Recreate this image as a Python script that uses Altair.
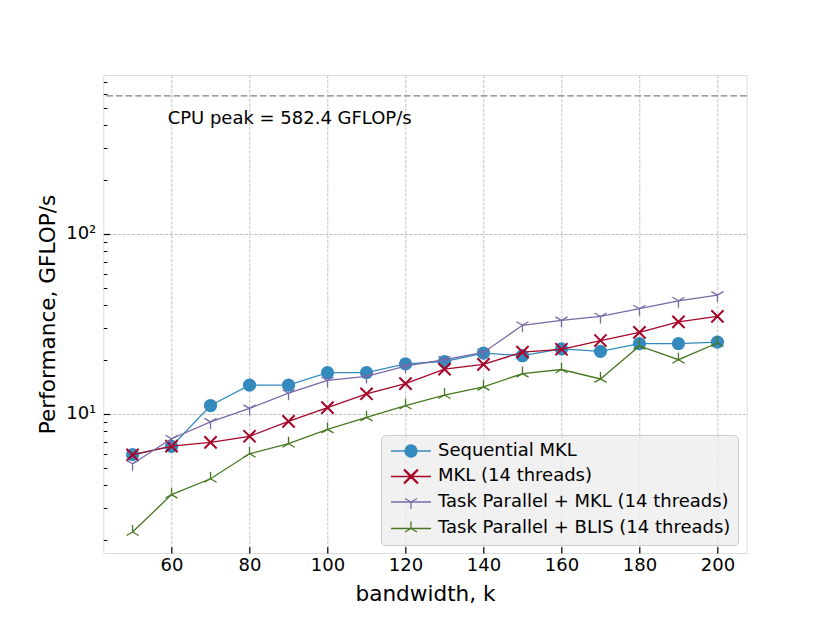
import altair as alt
import pandas as pd

# ---------------- data ----------------
K = [50, 60, 70, 80, 90, 100, 110, 120, 130, 140, 150, 160, 170, 180, 190, 200]
SEQ_MKL = [5.92, 6.58, 11.1, 14.4, 14.4, 16.9, 16.9, 18.9, 19.5, 21.7, 21.0, 22.9, 22.2, 24.5, 24.5, 25.0]
MKL_14 = [5.9, 6.6, 6.93, 7.49, 9.06, 10.8, 12.9, 14.7, 17.7, 18.8, 22.0, 22.8, 25.5, 28.3, 32.4, 34.7]
TP_MKL = [5.27, 7.26, 9.0, 10.7, 13.0, 15.3, 16.1, 18.4, 19.95, 21.9, 31.0, 33.0, 34.7, 38.3, 42.4, 45.6]
TP_BLIS = [2.20, 3.55, 4.35, 5.99, 6.81, 8.18, 9.54, 11.1, 12.7, 14.1, 16.7, 17.6, 15.6, 23.8, 19.95, 24.7]

NAMES = ["Sequential MKL", "MKL (14 threads)",
         "Task Parallel + MKL (14 threads)", "Task Parallel + BLIS (14 threads)"]
COLORS = ["#348ABD", "#A60628", "#7A68A6", "#467821"]

PEAK = 582.4
PEAK_LABEL = "CPU peak = 582.4 GFLOP/s"
PEAK_LABEL_X = 59
PEAK_LABEL_Y = PEAK * 0.7

X_TICKS = [60, 80, 100, 120, 140, 160, 180, 200]
Y_TICKS = [10, 100]
Y_TICK_LABELS = ["10¹", "10²"]
Y_MINOR = [2, 3, 4, 5, 6, 7, 8, 9, 20, 30, 40, 50, 60, 70, 80, 90,
           200, 300, 400, 500, 600, 700]

X_DOMAIN = [42.5, 207.5]
Y_DOMAIN = [1.683, 761.6]

# ---------------- styling ----------------
W, H = 643.4, 478
FONT = "DejaVu Sans"
GRID = dict(grid=True, gridColor="#b2b2b2", gridDash=[3.3, 1.4], gridWidth=0.8)

xscale = alt.Scale(domain=X_DOMAIN, nice=False, zero=False)
yscale = alt.Scale(type="log", domain=Y_DOMAIN, nice=False)


def x_polygon(r, h):
    u = h / 2 ** 0.5
    pts = [(0, -2 * u), (r - u, -r - u), (r + u, -r + u), (2 * u, 0),
           (r + u, r - u), (r - u, r + u), (0, 2 * u), (-r + u, r + u),
           (-r - u, r - u), (-2 * u, 0), (-r - u, -r + u), (-r + u, -r - u)]
    return "M" + "L".join(f"{a:.4f},{b:.4f}" for a, b in pts) + "Z"


def tri(r, down=True):
    s = 1 if down else -1
    c, d = 0.866 * r, 0.5 * r
    return (f"M0,0L0,{s * r:.4f}M0,0L{-c:.4f},{-s * d:.4f}"
            f"M0,0L{c:.4f},{-s * d:.4f}")


# markers for the plotted points (unit paths, scaled by sqrt(size)/2)
PT_X = "M-1,-1L1,1M-1,1L1,-1"
PT_TRI_DOWN = tri(1.0, True)
PT_TRI_UP = tri(1.0, False)

# legend handles: a line plus the marker (symbol size 144 -> 6 px per unit)
U = 6.0
HANDLE = f"M{-20 / U:.4f},0H{20 / U:.4f}"
LEG_SHAPES = [
    HANDLE + "M-1,0A1,1,0,1,1,1,0A1,1,0,1,1,-1,0Z",
    HANDLE + x_polygon(6.5 / U, 0.5 / U),
    HANDLE + tri(7 / U, True),
    HANDLE + tri(7 / U, False),
]

label_expr = " : ".join(
    f"datum.value == {v} ? '{t}'" for v, t in zip(Y_TICKS, Y_TICK_LABELS)
) + " : ''"

x_label_axis = alt.Axis(values=X_TICKS, orient="bottom", ticks=False, tickSize=0,
                        domain=False, labelFontSize=18, labelPadding=3.3,
                        labelColor="black", labelFont=FONT, labelFlush=False,
                        title="bandwidth, k", titleFontSize=21.6,
                        titleFontWeight="normal", titleColor="black",
                        titleFont=FONT, titleY=47.5, titleBaseline="alphabetic",
                        **GRID)
y_label_axis = alt.Axis(values=Y_TICKS, orient="left", ticks=False, tickSize=0,
                        domain=False, labelExpr=label_expr, labelFontSize=18,
                        labelPadding=7.5, labelColor="black", labelFont=FONT,
                        labelFlush=False,
                        title="Performance, GFLOP/s", titleFontSize=21.6,
                        titleFontWeight="normal", titleColor="black",
                        titleFont=FONT, titleX=-49, titleY=H / 2,
                        titleAngle=270, titleBaseline="alphabetic",
                        titleAlign="center", **GRID)
x_tick_axis = alt.Axis(values=X_TICKS, orient="bottom", offset=-6.3, tickSize=6.3,
                       labels=False, domain=False, grid=False, title=None,
                       tickColor="black", tickWidth=1.2)
y_tick_axis = alt.Axis(values=Y_TICKS, orient="left", offset=-6.3, tickSize=6.3,
                       labels=False, domain=False, grid=False, title=None,
                       tickColor="black", tickWidth=1.2)
y_minor_axis = alt.Axis(values=Y_MINOR, orient="left", offset=-3.6, tickSize=3.6,
                        labels=False, domain=False, grid=False, title=None,
                        tickColor="black", tickWidth=1.0)

series = [SEQ_MKL, MKL_14, TP_MKL, TP_BLIS]
layers = []

# peak line + annotation
peak_df = pd.DataFrame({"v": [PEAK]})
layers.append(alt.Chart(peak_df).mark_rule(color="#808080", strokeDash=[6.7, 2.9],
                                           strokeWidth=1.3)
              .encode(y=alt.Y("v:Q", scale=yscale, axis=None)))
ann_df = pd.DataFrame({"k": [PEAK_LABEL_X], "v": [PEAK_LABEL_Y], "t": [PEAK_LABEL]})
layers.append(alt.Chart(ann_df).mark_text(align="left", baseline="alphabetic",
                                          fontSize=18, font=FONT, color="black")
              .encode(x=alt.X("k:Q", scale=xscale, axis=None),
                      y=alt.Y("v:Q", scale=yscale, axis=None), text="t:N"))

axis_plan = {
    (0, "line"): (x_label_axis, y_label_axis),
    (0, "pt"): (x_tick_axis, y_tick_axis),
    (1, "line"): (None, y_minor_axis),
}

point_marks = [
    dict(shape="circle", size=175, filled=True, strokeWidth=0),
    dict(shape=PT_X, size=150, filled=False, strokeWidth=2),
    dict(shape=PT_TRI_DOWN, size=196, filled=False, strokeWidth=1.3),
    dict(shape=PT_TRI_UP, size=196, filled=False, strokeWidth=1.3),
]

for i, vals in enumerate(series):
    df = pd.DataFrame({"k": K, "v": vals})
    for kind in ("line", "pt"):
        xa, ya = axis_plan.get((i, kind), (None, None))
        enc = dict(x=alt.X("k:Q", scale=xscale, axis=xa),
                   y=alt.Y("v:Q", scale=yscale, axis=ya))
        if kind == "line":
            m = alt.Chart(df).mark_line(color=COLORS[i], strokeWidth=1.3)
        else:
            m = alt.Chart(df).mark_point(color=COLORS[i], opacity=1, **point_marks[i])
        layers.append(m.encode(**enc))

# legend carrier (no visible data)
leg = alt.Legend(orient="none", legendX=277.7, legendY=360, title=None, padding=7,
                 fillColor="rgba(238,238,238,0.8)", strokeColor="#cccccc",
                 cornerRadius=4, labelFont=FONT, labelFontSize=18,
                 labelColor="black", symbolSize=144, symbolStrokeWidth=1.3,
                 labelOffset=18, rowPadding=6.5, symbolOffset=14, labelLimit=500)
leg_df = pd.DataFrame({"series": NAMES, "k": [K[0]] * 4, "v": [SEQ_MKL[0]] * 4})
layers.append(
    alt.Chart(leg_df).transform_filter("false")
    .mark_point(filled=True, opacity=1)
    .encode(
        x=alt.X("k:Q", scale=xscale, axis=None),
        y=alt.Y("v:Q", scale=yscale, axis=None),
        fill=alt.Fill("series:N", scale=alt.Scale(domain=NAMES, range=COLORS), legend=leg),
        stroke=alt.Stroke("series:N", scale=alt.Scale(domain=NAMES, range=COLORS), legend=leg),
        shape=alt.Shape("series:N", scale=alt.Scale(domain=NAMES, range=LEG_SHAPES), legend=leg),
    )
)

chart = (
    alt.layer(*layers)
    .resolve_axis(x="independent", y="independent")
    .properties(width=W, height=H,
                autosize=alt.AutoSizeParams(type="none"),
                padding={"left": 95.3, "top": 67, "right": 60, "bottom": 66},
                background="white")
    .configure_view(stroke="#bcbcbc", strokeWidth=1.4, fill="#eeeeee")
    .configure(font=FONT)
)

chart.save("out.html", embed_options={"renderer": "svg", "actions": False})
